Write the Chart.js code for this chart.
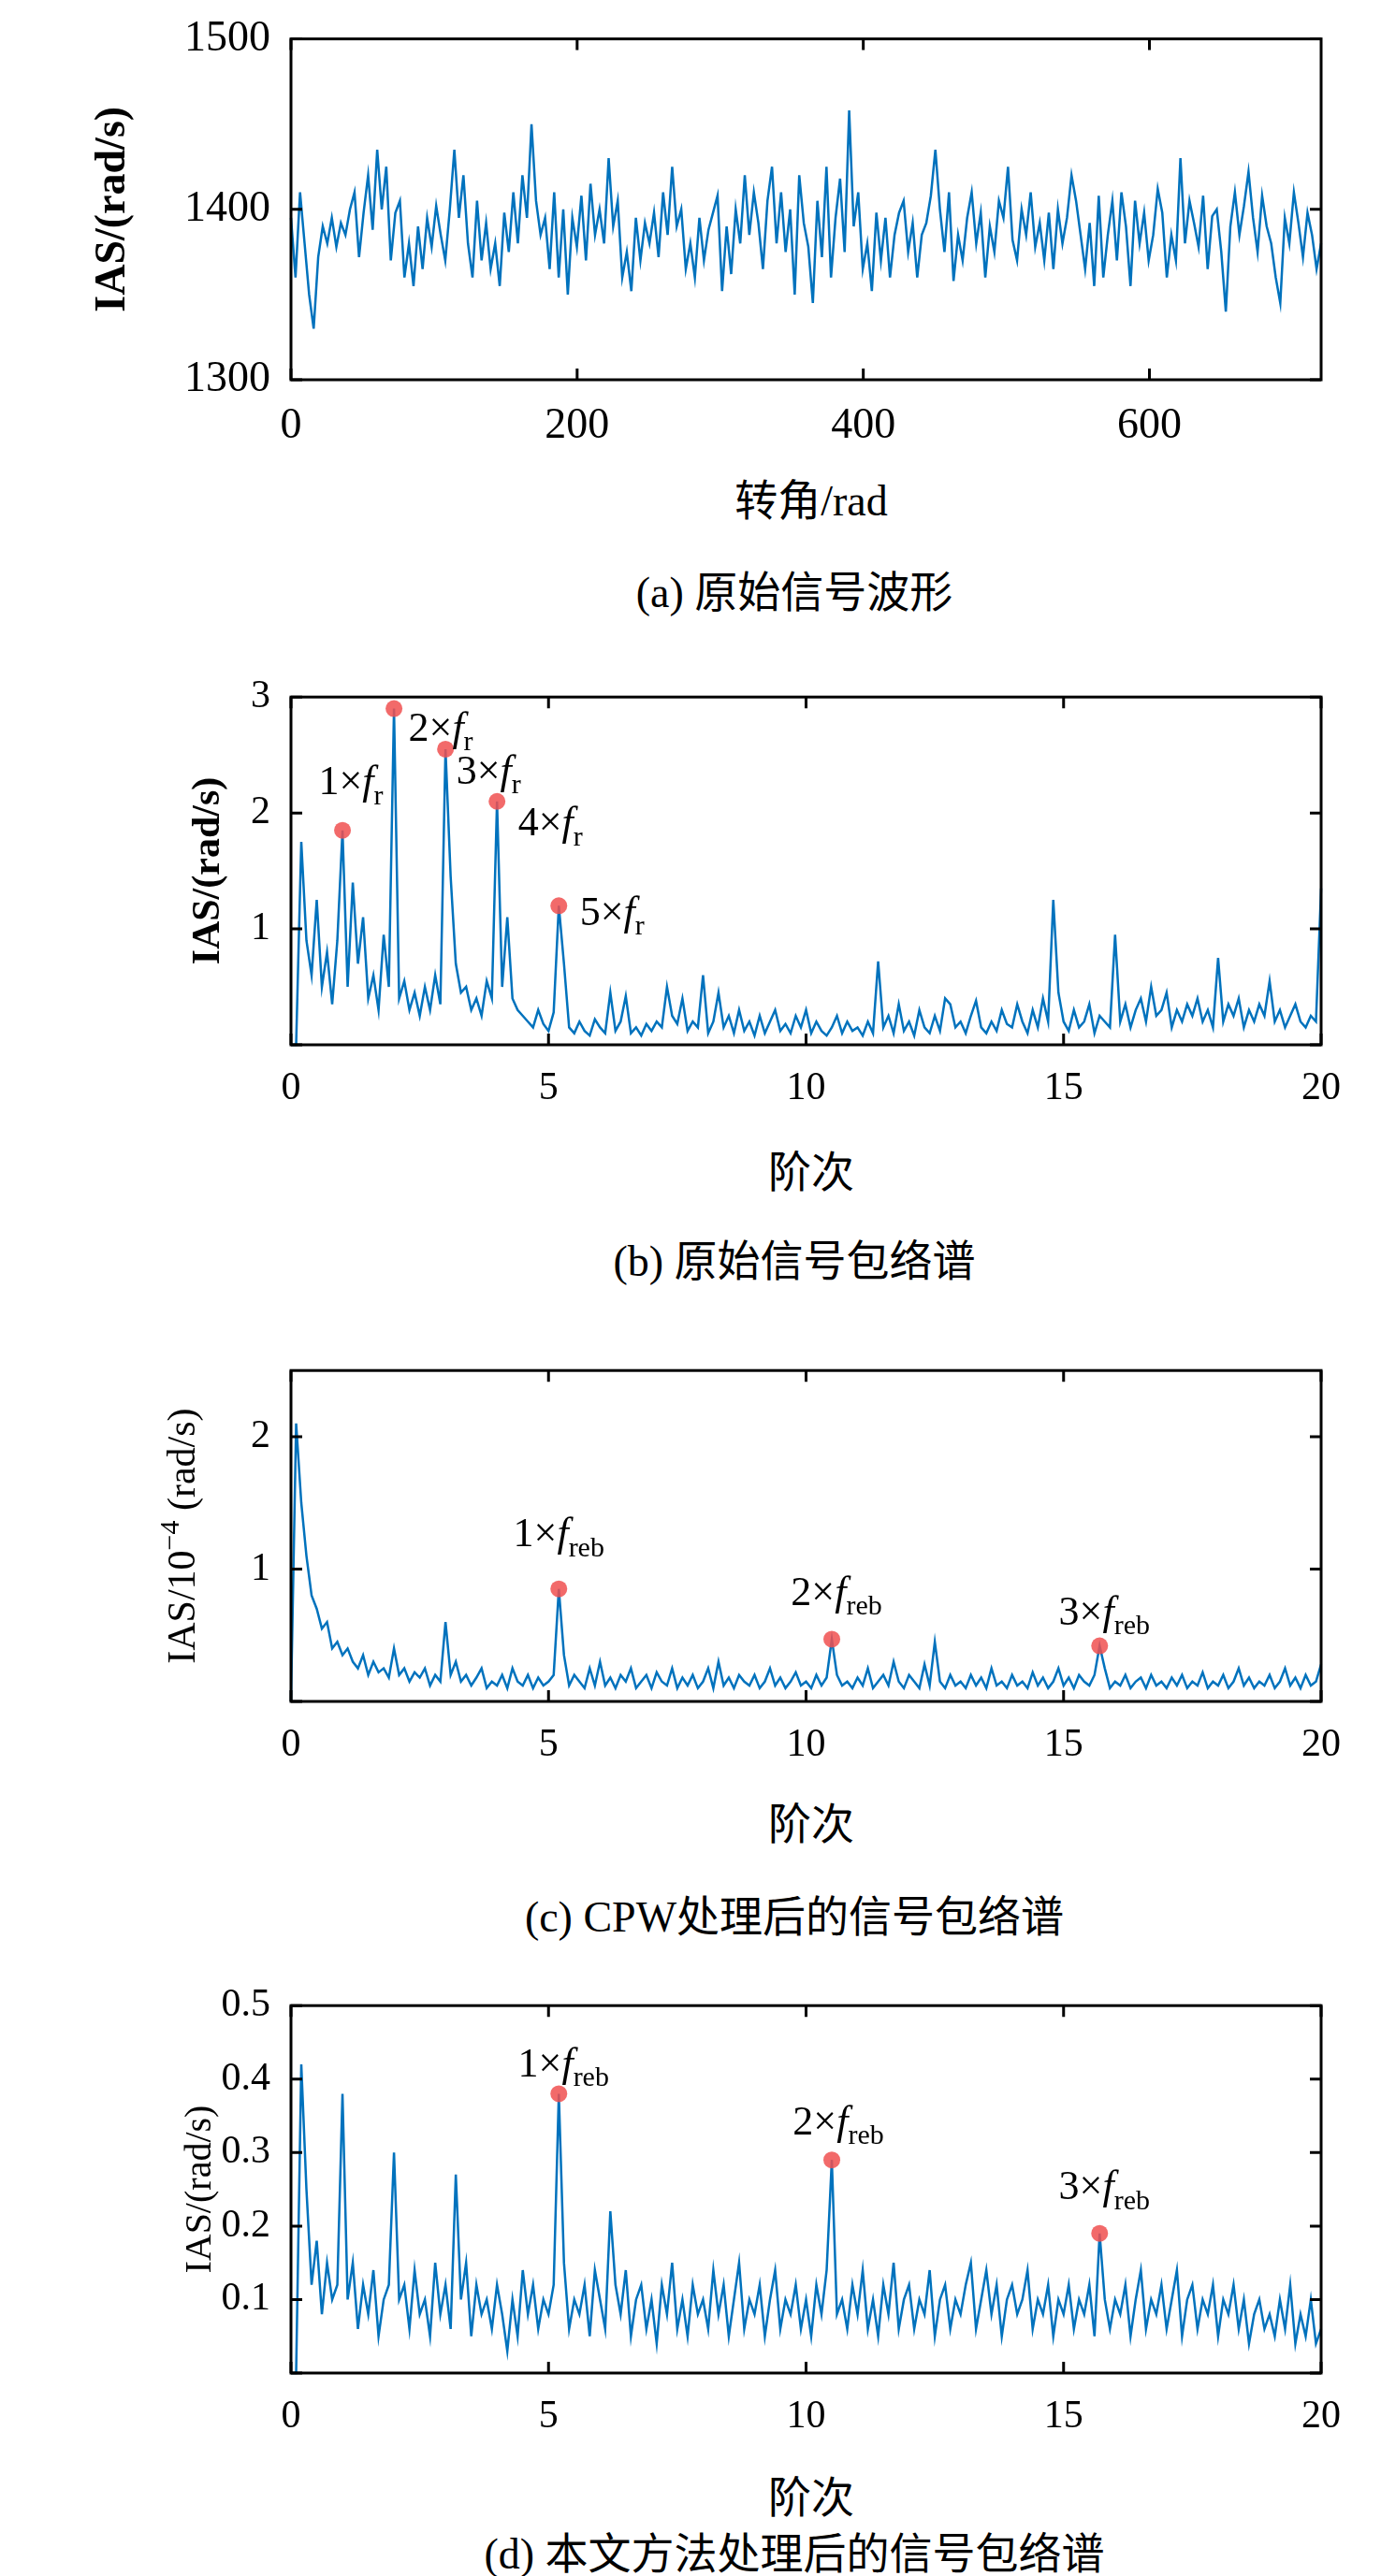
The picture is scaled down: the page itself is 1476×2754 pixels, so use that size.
<!DOCTYPE html>
<html lang="zh">
<head>
<meta charset="UTF-8"/>
<script src="https://cdn.jsdelivr.net/npm/chart.js"></script>
<style>
  body { margin: 0; background: #fff; width: 1476px; height: 2754px; position: relative; overflow: hidden; }
  canvas { position: absolute; left: 0; }
  .txt { position: absolute; left: 0; width: 1700px; text-align: center; font: 46px "Liberation Serif", "Noto Sans CJK SC"; line-height: 60px; color: #000; }
</style>
</head>
<body>
<canvas id="ca" style="top:0px" width="1476" height="486"></canvas>
<canvas id="cb" style="top:706px" width="1476" height="491"></canvas>
<canvas id="cc" style="top:1426px" width="1476" height="473"></canvas>
<canvas id="cd" style="top:2105px" width="1476" height="512"></canvas>
<div class="txt" style="top:506px;width:1734px">转角/rad</div>
<div class="txt" style="top:604px;width:1698px">(a) 原始信号波形</div>
<div class="txt" style="top:1224px;width:1734px">阶次</div>
<div class="txt" style="top:1319px;width:1698px">(b) 原始信号包络谱</div>
<div class="txt" style="top:1921px;width:1734px">阶次</div>
<div class="txt" style="top:2020px;width:1698px">(c) CPW处理后的信号包络谱</div>
<div class="txt" style="top:2641px;width:1734px">阶次</div>
<div class="txt" style="top:2701px;width:1698px">(d) 本文方法处理后的信号包络谱</div>
<script>
// (a) raw waveform, angle 0..720 rad
const waveMax = 720;
const waveIAS = [
  1395,1360,1410,1380,1350,1330,1372,1390,1380,1395,
  1378,1392,1385,1400,1410,1372,1398,1420,1388,1435,
  1400,1425,1370,1398,1405,1360,1380,1355,1390,1365,
  1395,1378,1402,1385,1370,1400,1435,1395,1420,1380,
  1360,1405,1370,1392,1365,1380,1355,1398,1375,1410,
  1380,1420,1395,1450,1405,1385,1395,1365,1410,1360,
  1400,1350,1395,1378,1408,1370,1415,1385,1400,1380,
  1430,1390,1405,1360,1375,1352,1395,1370,1392,1380,
  1398,1372,1410,1385,1425,1390,1400,1365,1380,1360,
  1395,1370,1388,1398,1408,1352,1390,1362,1400,1380,
  1420,1385,1410,1392,1365,1405,1425,1380,1410,1375,
  1400,1350,1420,1392,1378,1345,1405,1372,1425,1360,
  1395,1418,1375,1458,1390,1410,1365,1380,1352,1398,
  1370,1395,1360,1385,1398,1405,1375,1392,1360,1385,
  1392,1408,1435,1400,1375,1410,1358,1385,1370,1395,
  1410,1380,1398,1360,1390,1375,1405,1395,1425,1382,
  1370,1400,1385,1410,1378,1392,1370,1398,1365,1400,
  1380,1395,1420,1405,1385,1365,1392,1355,1408,1360,
  1385,1405,1370,1410,1390,1355,1405,1380,1398,1370,
  1385,1412,1398,1360,1385,1370,1430,1380,1405,1392,
  1378,1408,1365,1396,1400,1375,1340,1390,1410,1385,
  1402,1422,1395,1375,1408,1390,1380,1360,1345,1395,
  1380,1410,1392,1372,1398,1385,1365,1380
];
// spectra sampled every 0.1 order, 0..20
const orderStep = 0.1;
const specRaw = [
  0,0,1.75,0.9,0.6,1.25,0.5,0.8,0.35,0.9,
  1.85,0.5,1.4,0.7,1.1,0.4,0.6,0.3,0.95,0.5,
  2.9,0.4,0.55,0.3,0.45,0.25,0.5,0.3,0.6,0.35,
  2.55,1.45,0.7,0.45,0.5,0.3,0.4,0.25,0.55,0.4,
  2.1,0.5,1.1,0.4,0.3,0.25,0.2,0.15,0.3,0.18,
  0.12,0.28,1.2,0.7,0.15,0.1,0.2,0.12,0.08,0.22,
  0.15,0.1,0.45,0.12,0.2,0.42,0.1,0.15,0.08,0.18,
  0.12,0.2,0.15,0.5,0.25,0.18,0.4,0.12,0.2,0.15,
  0.6,0.1,0.2,0.45,0.15,0.25,0.1,0.3,0.12,0.2,
  0.08,0.25,0.1,0.2,0.3,0.12,0.18,0.1,0.25,0.15,
  0.3,0.1,0.2,0.12,0.08,0.15,0.25,0.1,0.2,0.12,
  0.15,0.08,0.2,0.1,0.72,0.15,0.25,0.1,0.35,0.12,
  0.2,0.08,0.3,0.15,0.1,0.25,0.12,0.4,0.35,0.15,
  0.2,0.1,0.25,0.38,0.15,0.1,0.2,0.12,0.3,0.18,
  0.15,0.35,0.2,0.1,0.3,0.15,0.4,0.2,1.25,0.45,
  0.2,0.12,0.3,0.15,0.2,0.35,0.1,0.25,0.2,0.15,
  0.95,0.2,0.35,0.15,0.3,0.4,0.2,0.5,0.25,0.3,
  0.45,0.15,0.3,0.2,0.35,0.25,0.4,0.2,0.3,0.15,
  0.75,0.2,0.35,0.25,0.4,0.15,0.3,0.2,0.35,0.25,
  0.55,0.2,0.3,0.15,0.25,0.35,0.2,0.15,0.25,0.2,
  1.35
];
const specCPW = [
  0,2.1,1.5,1.1,0.8,0.7,0.55,0.6,0.4,0.45,
  0.35,0.4,0.3,0.25,0.35,0.2,0.3,0.22,0.25,0.18,
  0.4,0.2,0.25,0.15,0.22,0.18,0.25,0.12,0.2,0.15,
  0.6,0.2,0.3,0.15,0.2,0.12,0.18,0.25,0.1,0.15,
  0.12,0.2,0.1,0.25,0.15,0.12,0.2,0.1,0.18,0.12,
  0.15,0.2,0.85,0.35,0.12,0.2,0.15,0.1,0.25,0.12,
  0.3,0.12,0.18,0.1,0.2,0.15,0.25,0.1,0.15,0.2,
  0.1,0.22,0.15,0.12,0.25,0.1,0.18,0.12,0.2,0.1,
  0.15,0.25,0.1,0.3,0.12,0.18,0.1,0.2,0.15,0.12,
  0.2,0.1,0.15,0.25,0.12,0.18,0.1,0.15,0.22,0.12,
  0.15,0.1,0.2,0.12,0.18,0.47,0.2,0.12,0.15,0.1,
  0.18,0.12,0.25,0.1,0.15,0.2,0.12,0.3,0.15,0.1,
  0.2,0.15,0.1,0.28,0.12,0.45,0.15,0.1,0.2,0.12,
  0.15,0.1,0.2,0.12,0.18,0.1,0.25,0.12,0.15,0.1,
  0.2,0.12,0.15,0.1,0.22,0.12,0.18,0.1,0.15,0.25,
  0.12,0.18,0.1,0.2,0.15,0.12,0.2,0.42,0.25,0.1,
  0.15,0.12,0.2,0.1,0.15,0.18,0.1,0.2,0.12,0.15,
  0.1,0.18,0.12,0.2,0.1,0.15,0.12,0.22,0.1,0.15,
  0.12,0.2,0.1,0.15,0.25,0.12,0.18,0.1,0.15,0.12,
  0.2,0.1,0.15,0.25,0.12,0.18,0.1,0.2,0.12,0.15,
  0.28
];
const specOurs = [
  0,0,0.42,0.25,0.12,0.18,0.08,0.15,0.1,0.12,
  0.38,0.1,0.15,0.06,0.12,0.08,0.14,0.05,0.1,0.12,
  0.3,0.1,0.12,0.06,0.14,0.08,0.1,0.05,0.15,0.08,
  0.12,0.06,0.27,0.1,0.15,0.05,0.12,0.08,0.1,0.06,
  0.12,0.08,0.03,0.1,0.05,0.14,0.08,0.12,0.06,0.1,
  0.08,0.12,0.38,0.15,0.06,0.1,0.08,0.12,0.05,0.14,
  0.1,0.06,0.22,0.12,0.08,0.14,0.05,0.1,0.12,0.06,
  0.1,0.04,0.12,0.08,0.15,0.06,0.1,0.05,0.12,0.08,
  0.1,0.06,0.14,0.08,0.12,0.05,0.1,0.15,0.06,0.1,
  0.08,0.12,0.05,0.1,0.14,0.06,0.1,0.08,0.12,0.06,
  0.1,0.05,0.12,0.08,0.14,0.29,0.08,0.1,0.06,0.12,
  0.08,0.14,0.06,0.1,0.05,0.12,0.08,0.15,0.06,0.1,
  0.12,0.06,0.1,0.08,0.14,0.05,0.1,0.12,0.06,0.1,
  0.08,0.12,0.15,0.06,0.1,0.14,0.08,0.12,0.05,0.1,
  0.12,0.08,0.1,0.14,0.06,0.1,0.08,0.12,0.05,0.1,
  0.08,0.12,0.06,0.1,0.08,0.12,0.05,0.19,0.1,0.06,
  0.1,0.08,0.12,0.05,0.1,0.14,0.06,0.1,0.08,0.12,
  0.06,0.1,0.14,0.05,0.1,0.12,0.06,0.1,0.08,0.12,
  0.05,0.1,0.08,0.12,0.06,0.1,0.04,0.08,0.1,0.06,
  0.08,0.05,0.1,0.06,0.12,0.04,0.08,0.05,0.1,0.04,
  0.06
];
// marked peaks
const peaksB_x = [1.0, 2.0, 3.0, 4.0, 5.2];
const peaksB_y = [1.85, 2.9, 2.55, 2.1, 1.2];
const peaksB_n = ['1', '2', '3', '4', '5'];
const peaksC_x = [5.2, 10.5, 15.7];
const peaksC_y = [0.85, 0.47, 0.42];
const peaksD_x = [5.2, 10.5, 15.7];
const peaksD_y = [0.38, 0.29, 0.19];
const peaksCD_n = ['1', '2', '3'];

const ticksA_x = [0, 200, 400, 600];
const ticksA_y = [1300, 1400, 1500];
const ticksSpec_x = [0, 5, 10, 15, 20];
const ticksB_y = [0, 1, 2, 3];
const ticksC_y = [0, 1, 2];
const ticksD_y = [0, 0.1, 0.2, 0.3, 0.4, 0.5];

const BLUE = '#0072BD';
const SERIF = '"Liberation Serif", "Times New Roman", serif';

const frame = {
  id: 'frame',
  afterDraw(chart, args, o) {
    const {ctx, chartArea: a, scales: {x, y}} = chart;
    ctx.save();
    ctx.strokeStyle = '#000';
    ctx.lineWidth = 3;
    ctx.strokeRect(a.left, a.top, a.right - a.left, a.bottom - a.top);
    ctx.beginPath();
    x.ticks.forEach(t => {
      const px = x.getPixelForValue(t.value);
      ctx.moveTo(px, a.bottom); ctx.lineTo(px, a.bottom - 12);
      ctx.moveTo(px, a.top); ctx.lineTo(px, a.top + 12);
    });
    y.ticks.forEach(t => {
      const py = y.getPixelForValue(t.value);
      ctx.moveTo(a.left, py); ctx.lineTo(a.left + 12, py);
      ctx.moveTo(a.right, py); ctx.lineTo(a.right - 12, py);
    });
    ctx.stroke();
    // y title
    ctx.translate(o.titleX, (a.top + a.bottom) / 2);
    ctx.rotate(-Math.PI / 2);
    ctx.fillStyle = '#000';
    ctx.textAlign = 'center';
    ctx.textBaseline = 'middle';
    ctx.font = o.titleFont;
    if (o.sup) {
      // IAS/10^-4 (rad/s)
      const parts = [['IAS/10', o.titleFont, 0], ['−4', '30px ' + SERIF, -14], [' (rad/s)', o.titleFont, 0]];
      let w = 0;
      parts.forEach(p => { ctx.font = p[1]; w += ctx.measureText(p[0]).width; });
      let cx = -w / 2;
      ctx.textAlign = 'left';
      parts.forEach(p => { ctx.font = p[1]; ctx.fillText(p[0], cx, p[2]); cx += ctx.measureText(p[0]).width; });
    } else {
      ctx.fillText(o.title, 0, 0);
    }
    ctx.restore();
    // peak labels
    if (o.labels) {
      const ds = chart.data.datasets[1].data;
      ctx.save();
      ctx.fillStyle = '#000';
      ctx.textBaseline = 'middle';
      ds.forEach((p, i) => {
        const px = x.getPixelForValue(p.x) + o.offsets[i][0];
        const py = y.getPixelForValue(p.y) + o.offsets[i][1];
        const parts = [[o.labels[i] + '×', '44px ' + SERIF, 0], ['f', 'italic 44px ' + SERIF, 0], [o.sub, '30px ' + SERIF, 14]];
        let w = 0;
        parts.forEach(q => { ctx.font = q[1]; w += ctx.measureText(q[0]).width; });
        let cx = px - w / 2;
        parts.forEach(q => { ctx.font = q[1]; ctx.fillText(q[0], cx, py + q[2]); cx += ctx.measureText(q[0]).width; });
      });
      ctx.restore();
    }
  }
};

function makeChart(id, line, peaks, xr, xt, yr, yt, fmt, frameOpts, tickFont) {
  const datasets = [{
    data: line, borderColor: BLUE, borderWidth: 2.5, pointRadius: 0, tension: 0, order: 2
  }];
  if (peaks) datasets.push({
    data: peaks, showLine: false, pointRadius: 9, pointBackgroundColor: 'rgba(240,80,80,0.85)',
    pointBorderWidth: 0, order: 1
  });
  new Chart(document.getElementById(id), {
    type: 'line',
    data: {datasets},
    options: {
      responsive: false, animation: false, clip: false,
      layout: {padding: {top: 30, right: 64, bottom: 0, left: 0}},
      plugins: {legend: {display: false}, tooltip: {enabled: false}, frame: frameOpts},
      scales: {
        x: {
          type: 'linear', min: xr[0], max: xr[1],
          afterBuildTicks: s => { s.ticks = xt.map(v => ({value: v})); },
          afterFit: s => { s.height = 80; },
          grid: {display: false}, border: {display: false},
          ticks: {color: '#000', font: {family: SERIF, size: tickFont}, padding: 14, maxRotation: 0, autoSkip: false}
        },
        y: {
          type: 'linear', min: yr[0], max: yr[1],
          afterBuildTicks: s => { s.ticks = yt.map(v => ({value: v})); },
          afterFit: s => { s.width = 311; },
          grid: {display: false}, border: {display: false},
          ticks: {color: '#000', font: {family: SERIF, size: tickFont}, padding: 14, autoSkip: false, callback: fmt}
        }
      }
    },
    plugins: [frame]
  });
}

const spec = arr => arr.map((v, i) => ({x: i * orderStep, y: v}));
const pts = (xs, ys) => xs.map((v, i) => ({x: v, y: ys[i]}));

makeChart('ca', waveIAS.map((v, i) => ({x: i * waveMax / (waveIAS.length - 1), y: v})), null,
  [0, 720], ticksA_x, [1300, 1500], ticksA_y, v => String(v),
  {titleX: 121, title: 'IAS/(rad/s)', titleFont: 'bold 46px ' + SERIF}, 46);

makeChart('cb', spec(specRaw), pts(peaksB_x, peaksB_y),
  [0, 20], ticksSpec_x, [0, 3], ticksB_y, v => v === 0 ? '' : String(v),
  {titleX: 223, title: 'IAS/(rad/s)', titleFont: 'bold 42px ' + SERIF,
   labels: peaksB_n, sub: 'r', offsets: [[9, -50], [50, 23], [46, 25], [57, 25], [57, 9]]}, 42);

makeChart('cc', spec(specCPW), pts(peaksC_x, peaksC_y),
  [0, 20], ticksSpec_x, [0, 2.5], ticksC_y, v => v === 0 ? '' : String(v),
  {titleX: 197, sup: true, titleFont: '42px ' + SERIF,
   labels: peaksCD_n, sub: 'reb', offsets: [[0, -57], [5, -48], [5, -34]]}, 42);

makeChart('cd', spec(specOurs), pts(peaksD_x, peaksD_y),
  [0, 20], ticksSpec_x, [0, 0.5], ticksD_y, v => v === 0 ? '' : String(v),
  {titleX: 214, title: 'IAS/(rad/s)', titleFont: '40px ' + SERIF,
   labels: peaksCD_n, sub: 'reb', offsets: [[5, -30], [7, -39], [5, -48]]}, 42);
</script>
</body>
</html>
